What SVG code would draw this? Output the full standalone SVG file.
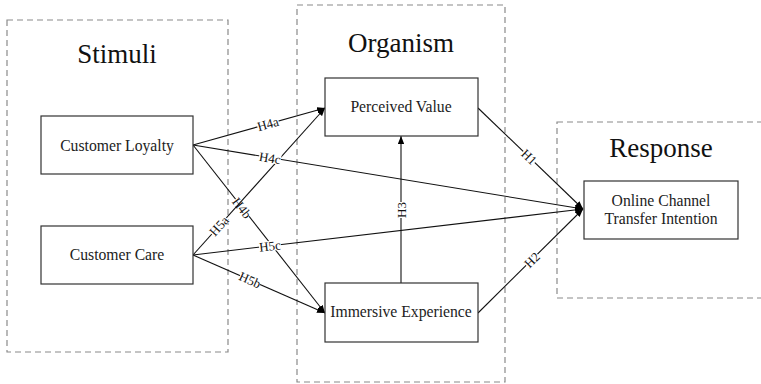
<svg xmlns="http://www.w3.org/2000/svg" width="761" height="384" viewBox="0 0 761 384">
<defs>
<marker id="arr" viewBox="0 0 10 8" refX="10" refY="4" markerWidth="8" markerHeight="6.4" markerUnits="userSpaceOnUse" orient="auto">
<path d="M0,0 L10,4 L0,8 z" fill="#000"/>
</marker>
<style>
.grp{fill:none;stroke:#8a8a8a;stroke-width:1.2;stroke-dasharray:6,4}
.node{fill:#fff;stroke:#333;stroke-width:1.2}
.title{font-family:"Liberation Serif",serif;font-size:27px;fill:#111;text-anchor:middle}
.lbl{font-family:"Liberation Serif",serif;font-size:15.7px;fill:#222;text-anchor:middle}
.edge{fill:none;stroke:#111;stroke-width:1.1;marker-end:url(#arr)}
.el{font-family:"Liberation Serif",serif;font-size:13px;fill:#111;text-anchor:middle;dominant-baseline:central}
.bg{fill:#fff}
</style>
</defs>
<rect width="761" height="384" fill="#fff"/>
<g id="groups">
<rect class="grp" x="7" y="20" width="221" height="332"/>
<text class="title" x="117" y="63">Stimuli</text>
<rect class="grp" x="297" y="5" width="208" height="377"/>
<text class="title" x="401" y="52">Organism</text>
<rect class="grp" x="557" y="122" width="210" height="176"/>
<text class="title" x="661" y="157">Response</text>
</g>
<g id="connectors">
<line class="edge" x1="193" y1="145" x2="325" y2="108"/>
<line class="edge" x1="193" y1="145" x2="583" y2="209"/>
<line class="edge" x1="193" y1="145" x2="325" y2="313"/>
<g transform="translate(242,208) rotate(51.8)"><rect class="bg" x="-11" y="-5" width="22" height="10"/><text class="el" x="0" y="0">H4b</text></g>
<line class="edge" x1="193" y1="255" x2="325" y2="108"/>
<line class="edge" x1="193" y1="255" x2="583" y2="209"/>
<line class="edge" x1="193" y1="255" x2="325" y2="313"/>
<line class="edge" x1="478" y1="108" x2="583" y2="209"/>
<line class="edge" x1="478" y1="313" x2="583" y2="209"/>
<line class="edge" x1="401" y1="283" x2="401" y2="136"/>
<g transform="translate(268,124) rotate(-15.7)"><rect class="bg" x="-11" y="-5" width="22" height="10"/><text class="el" x="0" y="0">H4a</text></g>
<g transform="translate(270,158) rotate(9.3)"><rect class="bg" x="-11" y="-5" width="22" height="10"/><text class="el" x="0" y="0">H4c</text></g>
<g transform="translate(219,226) rotate(-48.1)"><rect class="bg" x="-11" y="-5" width="22" height="10"/><text class="el" x="0" y="0">H5a</text></g>
<g transform="translate(270,246) rotate(-6.7)"><rect class="bg" x="-11" y="-5" width="22" height="10"/><text class="el" x="0" y="0">H5c</text></g>
<g transform="translate(250,280) rotate(23.7)"><rect class="bg" x="-11" y="-5" width="22" height="10"/><text class="el" x="0" y="0">H5b</text></g>
<g transform="translate(529,157) rotate(43.9)"><rect class="bg" x="-8" y="-5" width="16" height="10"/><text class="el" x="0" y="0">H1</text></g>
<g transform="translate(532,260) rotate(-44.7)"><rect class="bg" x="-8" y="-5" width="16" height="10"/><text class="el" x="0" y="0">H2</text></g>
<g transform="translate(401,210) rotate(-90)"><rect class="bg" x="-8" y="-5" width="16" height="10"/><text class="el" x="0" y="0">H3</text></g>
</g>
<g id="customer-loyalty">
<rect class="node" x="41" y="116" width="152" height="58"/>
<text class="lbl" x="117" y="151">Customer Loyalty</text>
</g>
<g id="customer-care">
<rect class="node" x="41" y="226" width="152" height="58"/>
<text class="lbl" x="117" y="260">Customer Care</text>
</g>
<g id="perceived-value">
<rect class="node" x="325" y="78" width="153" height="58"/>
<text class="lbl" x="401" y="112">Perceived Value</text>
</g>
<g id="immersive-experience">
<rect class="node" x="325" y="283" width="153" height="59"/>
<text class="lbl" x="401" y="317">Immersive Experience</text>
</g>
<g id="online-channel">
<rect class="node" x="584" y="181" width="154" height="58"/>
<text class="lbl" x="661" y="206">Online Channel</text>
<text class="lbl" x="661" y="224">Transfer Intention</text>
</g>
</svg>
